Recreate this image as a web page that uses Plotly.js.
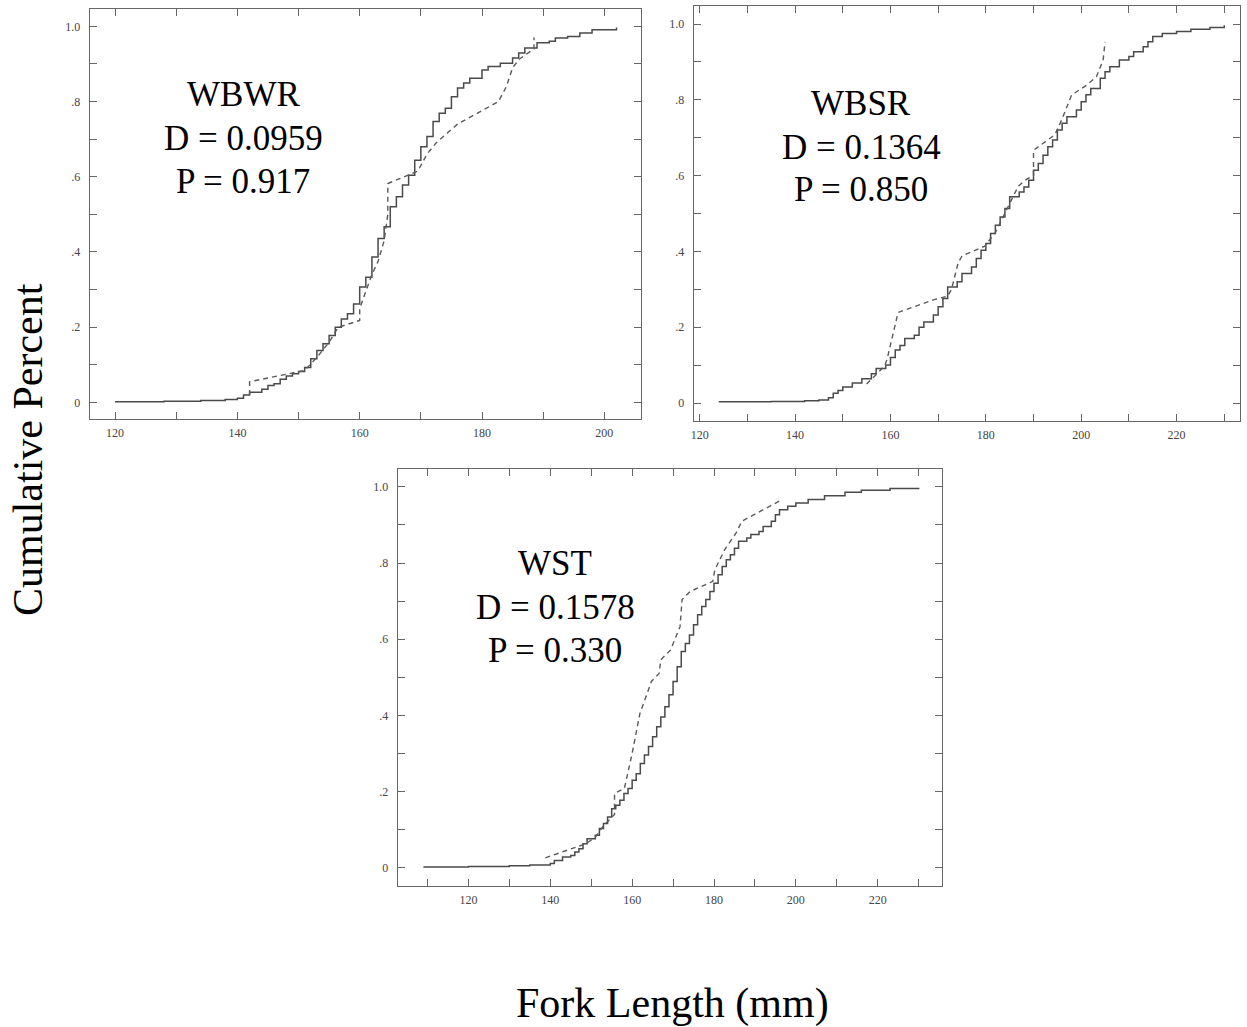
<!DOCTYPE html>
<html>
<head>
<meta charset="utf-8">
<script src="https://cdn.plot.ly/plotly-3.0.1.min.js"></script>
<style>html,body{margin:0;padding:0;background:#fff;}#chart{width:1247px;height:1027px;}</style>
</head>
<body>
<div id="chart"></div>
<script>
// ---- WBWR ----
const wbwrSolidX = [120,128,134,138,140,141,142,144,145,146,147,148,149,150,151,152,153,154,155,156,157,158,159,160,161,162,163,164,165,166,167,168,169,170,171,172,173,174,175,176,177,178,180,181,183,185,186,187,189,191,192,194,196,198,202];
const wbwrSolidY = [0.002,0.003,0.005,0.008,0.011,0.02,0.027,0.035,0.045,0.05,0.062,0.07,0.076,0.082,0.093,0.116,0.138,0.156,0.178,0.2,0.222,0.236,0.262,0.307,0.333,0.387,0.436,0.467,0.52,0.547,0.578,0.604,0.644,0.68,0.707,0.747,0.769,0.782,0.813,0.836,0.849,0.862,0.884,0.893,0.902,0.916,0.929,0.942,0.956,0.96,0.969,0.973,0.982,0.991,0.997];
const wbwrDashX = [142,142,151,153,155,156.5,160,160,162,163,164,164.6,164.6,168.5,169.5,171,172.5,176,182.7,184,185,186.2,188.5,188.5];
const wbwrDashY = [0.02,0.055,0.085,0.12,0.16,0.2,0.218,0.25,0.34,0.375,0.43,0.5,0.582,0.608,0.615,0.66,0.69,0.74,0.8,0.84,0.89,0.914,0.94,0.97];

// ---- WBSR ----
const wbsrSolidX = [124,135,142,145,147,148,149,150,152,154,156,157,159,160,161,162,163,165,166,167,169,170,171,172,174,175,177,178,179,180,181,182,183,184,185,187,188,189,190,191,192,193,194,195,196,197,199,200,201,202,204,205,206,208,210,211,213,214,215,217,220,223,227,230];
const wbsrSolidY = [0.003,0.004,0.006,0.008,0.014,0.026,0.033,0.042,0.053,0.064,0.077,0.091,0.1,0.12,0.14,0.152,0.17,0.179,0.2,0.214,0.232,0.254,0.276,0.306,0.32,0.342,0.359,0.381,0.403,0.421,0.447,0.469,0.491,0.513,0.544,0.557,0.57,0.588,0.614,0.632,0.654,0.676,0.694,0.72,0.738,0.755,0.773,0.795,0.813,0.83,0.857,0.874,0.887,0.905,0.914,0.927,0.94,0.953,0.967,0.975,0.98,0.986,0.991,0.997];
const wbsrDashX = [155,158.8,159.3,161.6,169,172,172.8,174.2,175,179.8,182,184,186.8,188.5,190,190,194.5,195.9,198,201.2,203.2,204.6,205];
const wbsrDashY = [0.05,0.098,0.116,0.239,0.272,0.282,0.3,0.37,0.388,0.414,0.45,0.5,0.572,0.59,0.6,0.667,0.708,0.747,0.813,0.839,0.861,0.905,0.953];

// ---- WST ----
const wstSolidX = [109,120,130,135,140,141,143,145,146,147,148,149,151,152,153,154,155,156,157,158,159,160,161,162,163,164,165,166,167,168,169,170,171,172,173,174,175,176,177,178,179,180,181,182,183,184,185,186,188,189,191,192,194,195,196,198,200,203,207,212,216,223,230];
const wstSolidY = [0.002,0.003,0.005,0.007,0.011,0.019,0.028,0.032,0.041,0.05,0.063,0.076,0.085,0.103,0.116,0.133,0.155,0.164,0.177,0.195,0.208,0.23,0.247,0.274,0.296,0.318,0.344,0.37,0.396,0.423,0.454,0.489,0.528,0.568,0.589,0.611,0.638,0.664,0.686,0.704,0.725,0.747,0.769,0.791,0.809,0.822,0.839,0.857,0.866,0.875,0.883,0.896,0.91,0.927,0.94,0.949,0.958,0.967,0.977,0.986,0.991,0.996,0.998];
const wstDashX = [138.8,148.7,151,153,155.7,155.7,158.1,160,161.9,163.7,164.7,166.6,167,169.4,171.7,172.2,174.1,179.7,180.2,182.6,185.4,186.8,192,196.7];
const wstDashY = [0.026,0.063,0.08,0.11,0.14,0.195,0.208,0.3,0.405,0.458,0.489,0.51,0.546,0.572,0.633,0.704,0.725,0.752,0.782,0.835,0.879,0.91,0.94,0.967];

// ---- labels ----
const wbwrLabel = ["WBWR", "D = 0.0959", "P = 0.917"];
const wbsrLabel = ["WBSR", "D = 0.1364", "P = 0.850"];
const wstLabel = ["WST", "D = 0.1578", "P = 0.330"];
const yTickVals = [0,0.1,0.2,0.3,0.4,0.5,0.6,0.7,0.8,0.9,1.0];
const yTickText = ["0","",".2","",".4","",".6","",".8","","1.0"];
const x1TickVals = [120,130,140,150,160,170,180,190,200];
const x1TickText = ["120","","140","","160","","180","","200"];
const x2TickVals = [120,130,140,150,160,170,180,190,200,210,220,230];
const x2TickText = ["120","","140","","160","","180","","200","","220",""];
const x3TickVals = [110,120,130,140,150,160,170,180,190,200,210,220,230];
const x3TickText = ["","120","","140","","160","","180","","200","","220",""];
const xAxisTitle = "Fork Length (mm)";
const yAxisTitle = "Cumulative Percent";

const serif = "Liberation Serif, Times New Roman, serif";
const W = 1247, H = 1027;
const lineCol = "#4a4a4a";

function solid(x, y, xa, ya) {
  return {x: x, y: y, xaxis: xa, yaxis: ya, mode: "lines", type: "scatter",
    line: {color: lineCol, width: 1.5, shape: "hv"}, hoverinfo: "skip"};
}
function dashed(x, y, xa, ya) {
  return {x: x, y: y, xaxis: xa, yaxis: ya, mode: "lines", type: "scatter",
    line: {color: "#5a5a5a", width: 1.4, dash: "5px,4px"}, hoverinfo: "skip"};
}

const data = [
  solid(wbwrSolidX, wbwrSolidY, "x", "y"), dashed(wbwrDashX, wbwrDashY, "x", "y"),
  solid(wbsrSolidX, wbsrSolidY, "x2", "y2"), dashed(wbsrDashX, wbsrDashY, "x2", "y2"),
  solid(wstSolidX, wstSolidY, "x3", "y3"), dashed(wstDashX, wstDashY, "x3", "y3")
];

function px(a, b) { return [a / W, b / W]; }
function py(top, bottom) { return [1 - bottom / H, 1 - top / H]; }

function xax(range, dom, anchor, tv, tt) {
  return {range: range, domain: dom, anchor: anchor, tickmode: "array", tickvals: tv, ticktext: tt,
    ticks: "inside", ticklen: 7, tickwidth: 1, tickcolor: "#666",
    showline: true, linecolor: "#666", linewidth: 1.3, mirror: "allticks",
    showgrid: false, zeroline: false, ticklabelstandoff: 2,
    tickfont: {family: serif, size: 12, color: "#444"}};
}
function yax(range, dom, anchor) {
  return {range: range, domain: dom, anchor: anchor, tickmode: "array", tickvals: yTickVals, ticktext: yTickText,
    ticks: "inside", ticklen: 7, tickwidth: 1, tickcolor: "#666",
    showline: true, linecolor: "#666", linewidth: 1.3, mirror: "allticks",
    showgrid: false, zeroline: false, ticklabelstandoff: 6,
    tickfont: {family: serif, size: 12, color: "#444"}};
}

function labelAnns(lines, cx, ys) {
  return lines.map((t, i) => ({text: t, xref: "paper", yref: "paper", x: cx / W, y: 1 - ys[i] / H,
    xanchor: "center", yanchor: "middle", showarrow: false, font: {family: serif, size: 35, color: "#000"}}));
}

const annotations = [].concat(
  labelAnns(wbwrLabel, 243, [95, 138, 181]),
  labelAnns(wbsrLabel, 861, [103, 147, 190]),
  labelAnns(wstLabel, 555, [563, 607, 650]),
  [
    {text: yAxisTitle, xref: "paper", yref: "paper", x: 28 / W, y: 1 - 450 / H, xanchor: "center", yanchor: "middle", textangle: -90, showarrow: false, font: {family: serif, size: 42, color: "#000"}},
    {text: xAxisTitle, xref: "paper", yref: "paper", x: 672 / W, y: 1 - 1003 / H, xanchor: "center", yanchor: "middle", showarrow: false, font: {family: serif, size: 42, color: "#000"}}
  ]
);

const layout = {
  width: W, height: H, margin: {l: 0, r: 0, t: 0, b: 0},
  paper_bgcolor: "#fff", plot_bgcolor: "#fff", showlegend: false,
  xaxis: xax([115.9, 206], px(90, 641), "y", x1TickVals, x1TickText),
  yaxis: yax([-0.044, 1.046], py(9, 419), "x"),
  xaxis2: xax([118.8, 233.3], px(694, 1240), "y2", x2TickVals, x2TickText),
  yaxis2: yax([-0.0475, 1.0475], py(6, 421), "x2"),
  xaxis3: xax([102.8, 235.7], px(398, 942), "y3", x3TickVals, x3TickText),
  yaxis3: yax([-0.048, 1.047], py(469, 886), "x3"),
  annotations: annotations
};

Plotly.newPlot("chart", data, layout, {staticPlot: true, displayModeBar: false});
</script>
</body>
</html>
